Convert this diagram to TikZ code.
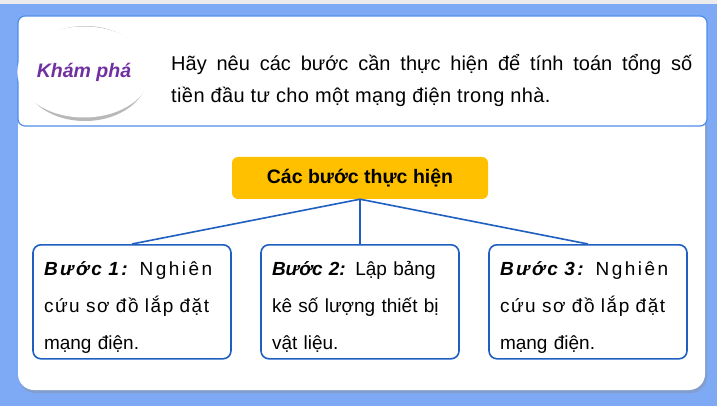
\documentclass[tikz,border=0pt]{standalone}
\usepackage{fontspec}
\setmainfont{Liberation Sans}
\usetikzlibrary{shapes.geometric}

\definecolor{nen}{HTML}{7EA9F4}
\definecolor{vien}{HTML}{1E5FC0}
\definecolor{vientren}{HTML}{4F8CEB}
\definecolor{tim}{HTML}{7030A0}
\definecolor{vang}{HTML}{FFC000}

\newcommand{\dong}[1]{\makebox[176pt][s]{#1}}
\newcommand{\gian}[2]{\makebox[176pt][s]{\addfontfeature{LetterSpace=#1}#2}}

\begin{document}
\begin{tikzpicture}[x=1pt,y=-1pt,
    buoc/.style={rectangle, draw=vien, line width=1.6pt, rounded corners=8pt, fill=white,
        minimum width=198pt, minimum height=114pt, anchor=north, text width=176pt,
        inner sep=0pt, align=left, font=\fontsize{19}{37}\selectfont},
    lien/.style={draw=vien, line width=1.6pt}]

    % nen
    \useasboundingbox (0,0) rectangle (717,406);
    \fill[nen] (0,0) rectangle (717,406);
    \fill[black!8] (0,0) rectangle (717,4);

    % khung duoi
    \fill[black!45, opacity=0.35, rounded corners=16pt] (19,112) rectangle (707,393);
    \fill[white, rounded corners=16pt] (18,110) rectangle (705,390);

    % khung tren
    \draw[vientren, fill=white, line width=1.2pt, rounded corners=7pt] (18,16) rectangle (707,126);

    % kham pha
    \fill[black!28] (85,73.5) ellipse (63.5pt and 47.5pt);
    \draw
    (84,72)node[ellipse, fill=white, minimum width=123pt, minimum height=91pt, inner sep=0pt,
        font=\fontsize{19.5}{20}\selectfont\bfseries\itshape, text=tim](khampha){Khám phá}
    (171,81)node[anchor=west, align=left, inner sep=0pt, font=\fontsize{20}{32}\selectfont](cauhoi)
        {\makebox[521pt][s]{Hãy nêu các bước cần thực hiện để tính toán tổng số}\\
         {\addfontfeature{LetterSpace=2}tiền đầu tư cho một mạng điện trong nhà.}}

    (360,178)node[rectangle, fill=vang, rounded corners=6pt, minimum width=256pt, minimum height=42pt,
        font=\fontsize{19.5}{20}\selectfont\bfseries](tieude){Các bước thực hiện}

    (132,244)node[buoc](b1){\gian{13}{\rule{0pt}{25pt}\textbf{\textit{Bước 1:}} Nghiên}\\\gian{8}{cứu sơ đồ lắp đặt}\\mạng điện.}
    (360,244)node[buoc](b2){\dong{\rule{0pt}{25pt}\textbf{\textit{Bước 2:}} Lập bảng}\\\makebox[171pt][s]{kê số lượng thiết bị}\\vật liệu.}
    (588,244)node[buoc](b3){\gian{13}{\rule{0pt}{25pt}\textbf{\textit{Bước 3:}} Nghiên}\\\gian{8}{cứu sơ đồ lắp đặt}\\mạng điện.}
    ;

    \draw[lien] (tieude.south) -- (b1.north);
    \draw[lien] (tieude.south) -- (b2.north);
    \draw[lien] (tieude.south) -- (b3.north);
\end{tikzpicture}
\end{document}
